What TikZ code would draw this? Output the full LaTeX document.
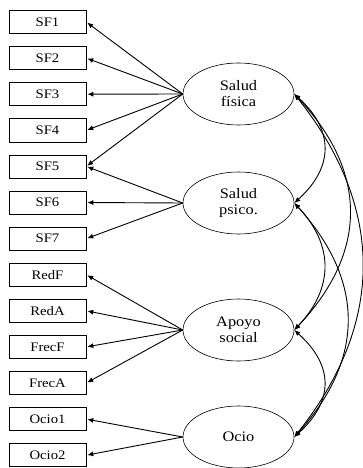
\documentclass[tikz,border=0pt]{standalone}
\usepackage{fontspec}
\setmainfont{Liberation Serif}
\newfontfamily\widefont[FakeStretch=1.13]{Liberation Serif}
\usetikzlibrary{arrows.meta,shapes.geometric}
\tikzset{
  obs/.style={draw, line width=0.6pt, minimum width=77pt, minimum height=23pt, inner sep=0pt, font=\widefont\fontsize{13}{14}\selectfont},
  lat/.style={draw, ellipse, line width=0.6pt, minimum width=111pt, minimum height=62pt, inner sep=0pt, align=center, font=\widefont\fontsize{14.5}{16}\selectfont},
  load/.style={line width=0.9pt, -{Latex[length=6pt,width=5pt]}, shorten >=1pt},
  cov/.style={line width=0.9pt, {Latex[length=6pt,width=5pt]}-{Latex[length=6pt,width=5pt]}}
}
\begin{document}
\begin{tikzpicture}[x=1pt,y=-1pt]
\useasboundingbox (0,0) rectangle (363,468);
% observed
\node[obs] (sf1) at (47.5,22) {SF1};
\node[obs] (sf2) at (47.5,58.1) {SF2};
\node[obs] (sf3) at (47.5,94.2) {SF3};
\node[obs] (sf4) at (47.5,130.3) {SF4};
\node[obs] (sf5) at (47.5,166.4) {SF5};
\node[obs] (sf6) at (47.5,202.5) {SF6};
\node[obs] (sf7) at (47.5,238.6) {SF7};
\node[obs] (redf) at (47.5,274.7) {RedF};
\node[obs] (reda) at (47.5,310.8) {RedA};
\node[obs] (frecf) at (47.5,346.9) {FrecF};
\node[obs] (freca) at (47.5,383) {FrecA};
\node[obs] (ocio1) at (47.5,419.1) {Ocio1};
\node[obs] (ocio2) at (47.5,455.2) {Ocio2};
% latent
\node[lat] (fis) at (238.5,94) {Salud\\física};
\node[lat] (psi) at (238.5,203) {Salud\\psico.};
\node[lat] (apo) at (238.5,330) {Apoyo\\social};
\node[lat] (oci) at (238.5,437) {Ocio};
% loadings
\foreach \t in {sf1,sf2,sf3,sf4,sf5} \draw[load] (fis.west) -- (\t.east);
\foreach \t in {sf5,sf6,sf7} \draw[load] (psi.west) -- (\t.east);
\foreach \t in {redf,reda,frecf,freca} \draw[load] (apo.west) -- (\t.east);
\foreach \t in {ocio1,ocio2} \draw[load] (oci.west) -- (\t.east);
% covariances
\draw[cov] (fis.east) .. controls (334,130) and (334,167) .. (psi.east);
\draw[cov] (psi.east) .. controls (334,245) and (334,288) .. (apo.east);
\draw[cov] (apo.east) .. controls (334,366) and (334,401) .. (oci.east);
\draw[cov] (fis.east) .. controls (368,172) and (368,252) .. (apo.east);
\draw[cov] (psi.east) .. controls (365,281) and (365,359) .. (oci.east);
\draw[cov] (fis.east) .. controls (385,208) and (385,323) .. (oci.east);
\end{tikzpicture}
\end{document}
